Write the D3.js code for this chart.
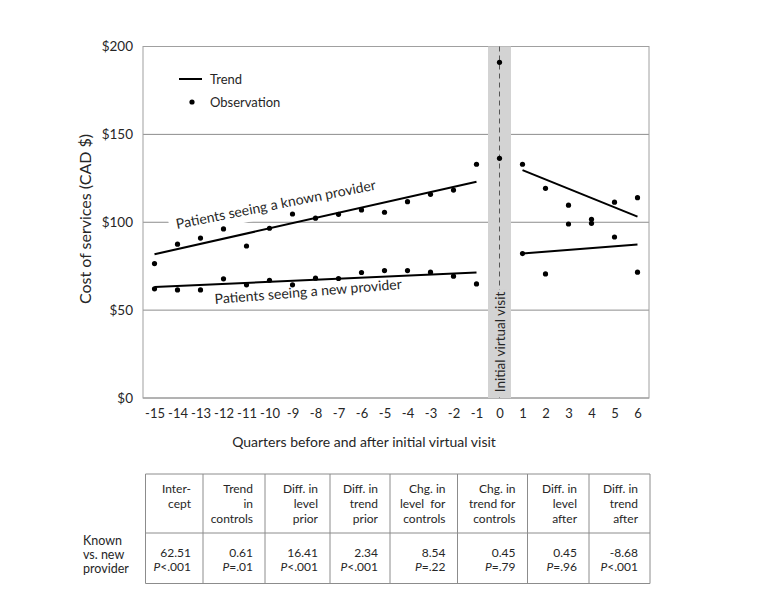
<!DOCTYPE html>
<html>
<head>
<meta charset="utf-8">
<script src="https://cdn.jsdelivr.net/npm/d3@7"></script>
<style>
  html, body { margin: 0; padding: 0; background: #fff; }
  svg text { font-family: Lato, "Open Sans", sans-serif; fill: #262626; }
</style>
</head>
<body>
<svg id="chart" width="769" height="606"></svg>
<script>
// ---------------- DATA ----------------
const quarterTicks = [-15,-14,-13,-12,-11,-10,-9,-8,-7,-6,-5,-4,-3,-2,-1,0,1,2,3,4,5,6];
const yTicks = [0, 50, 100, 150, 200];

const preQuarters = [-15,-14,-13,-12,-11,-10,-9,-8,-7,-6,-5,-4,-3,-2,-1];
const knownPre = [76.5, 87.5, 91.0, 96.2, 86.5, 96.6, 104.7, 102.3, 104.5, 107.0, 105.7, 111.7, 115.9, 118.3, 133.0];
const newPre   = [62.1, 61.5, 61.5, 67.8, 64.4, 67.0, 64.4, 68.2, 68.0, 71.4, 72.5, 72.5, 71.6, 69.3, 64.9];

const visitQuarter = [0, 0];
const visitValues  = [191.0, 136.4];

const postQuarters = [1, 2, 3, 4, 5, 6];
const knownPost = [133.0, 119.3, 109.7, 101.7, 111.4, 114.0];
const newPost   = [82.2, 70.6, 99.0, 99.4, 91.6, 71.6];

const knownTrendPre  = [[-15, 81.8], [-1, 123.1]];
const newTrendPre    = [[-15, 63.1], [-1, 71.4]];
const knownTrendPost = [[1, 129.7], [6, 103.2]];
const newTrendPost   = [[1, 82.2], [6, 87.3]];

const tableHeaders = [
  ["Inter-", "cept"],
  ["Trend", "in", "controls"],
  ["Diff. in", "level", "prior"],
  ["Diff. in", "trend", "prior"],
  ["Chg. in", "level  for", "controls"],
  ["Chg. in", "trend for", "controls"],
  ["Diff. in", "level", "after"],
  ["Diff. in", "trend", "after"]
];
const tableValues = ["62.51", "0.61", "16.41", "2.34", "8.54", "0.45", "0.45", "-8.68"];
const tablePs     = ["<.001", "=.01", "<.001", "<.001", "=.22", "=.79", "=.96", "<.001"];
const rowLabel    = ["Known", "vs. new", "provider"];

// ---------------- LAYOUT ----------------
const svg = d3.select("#chart");
const plot = { left: 143, right: 649, top: 46.5, bottom: 398 };
const x = d3.scaleLinear().domain([-15.5, 6.5]).range([plot.left, plot.right]);
const y = d3.scaleLinear().domain([0, 200]).range([plot.bottom, plot.top]);
const gridColor = "#8c8c8c";
const textColor = "#262626";

// grid lines
svg.append("g").selectAll("line").data(yTicks).join("line")
  .attr("x1", plot.left).attr("x2", plot.right)
  .attr("y1", d => y(d)).attr("y2", d => y(d))
  .attr("stroke", gridColor).attr("stroke-width", 1);

// border
svg.append("rect").attr("x", plot.left).attr("y", plot.top)
  .attr("width", plot.right - plot.left).attr("height", plot.bottom - plot.top)
  .attr("fill", "none").attr("stroke", "#a0a0a0").attr("stroke-width", 1);

// grey band at quarter 0
svg.append("rect").attr("x", x(-0.5)).attr("y", plot.top)
  .attr("width", x(0.5) - x(-0.5)).attr("height", plot.bottom - plot.top)
  .attr("fill", "#d3d3d3");

// dashed line
svg.append("line").attr("x1", x(0)).attr("x2", x(0))
  .attr("y1", plot.top).attr("y2", plot.bottom)
  .attr("stroke", "#555").attr("stroke-width", 1).attr("stroke-dasharray", "5,4");

// "Initial virtual visit" label
const ivG = svg.append("g").attr("transform", `translate(${x(0) + 5},${342}) rotate(-90)`);
const ivText = ivG.append("text").attr("text-anchor", "middle").attr("x", 0).attr("y", 0)
  .style("font-size", "13.5px").style("fill", textColor).text("Initial virtual visit");
const ivBB = ivText.node().getBBox();
ivG.insert("rect", "text").attr("x", ivBB.x - 2).attr("y", ivBB.y)
  .attr("width", ivBB.width + 4).attr("height", ivBB.height).attr("fill", "#d3d3d3");

// y axis labels
const yAxis = d3.axisLeft(y).tickValues(yTicks).tickSize(0).tickPadding(10)
  .tickFormat(d => "$" + d);
const yG = svg.append("g").attr("transform", `translate(${plot.left},0)`).call(yAxis);
yG.select(".domain").remove();
yG.selectAll("text").style("font-size", "13.5px").style("fill", textColor)
  .style("font-family", "Lato, sans-serif");

// x axis labels
const xAxis = d3.axisBottom(x).tickValues(quarterTicks).tickSize(0).tickPadding(11)
  .tickFormat(d => d);
const xG = svg.append("g").attr("transform", `translate(0,${plot.bottom})`).call(xAxis);
xG.select(".domain").remove();
xG.selectAll("text").style("font-size", "13px").style("fill", textColor)
  .style("font-family", "Lato, sans-serif");

// axis titles
svg.append("text").attr("x", 364).attr("y", 447).attr("text-anchor", "middle")
  .style("font-size", "14px").style("fill", textColor)
  .text("Quarters before and after initial virtual visit");
svg.append("text").attr("transform", `translate(91,219) rotate(-90)`)
  .attr("text-anchor", "middle").style("font-size", "16px").style("fill", textColor)
  .text("Cost of services (CAD $)");

// series labels with white backing (drawn under trend lines and dots)
function slopeLabel(txt, x0, y0, ang, padX, padBottom) {
  const g = svg.append("g").attr("transform", `translate(${x0},${y0}) rotate(${ang})`);
  const t = g.append("text").attr("x", 0).attr("y", 0)
    .style("font-size", "14px").style("fill", textColor).text(txt);
  const bb = t.node().getBBox();
  g.insert("rect", "text").attr("x", bb.x - padX).attr("y", bb.y - 2)
    .attr("width", bb.width + 2 * padX).attr("height", bb.height + 2 + padBottom).attr("fill", "#fff");
}
slopeLabel("Patients seeing a known provider", 177, 229, -11.2, 7, 4);
slopeLabel("Patients seeing a new provider", 215, 304, -4.6, 2, -1);

// trend lines
const line = d3.line().x(d => x(d[0])).y(d => y(d[1]));
[knownTrendPre, newTrendPre, knownTrendPost, newTrendPost].forEach(seg => {
  svg.append("path").attr("d", line(seg)).attr("fill", "none")
    .attr("stroke", "#000").attr("stroke-width", 2);
});

// dots
const dots = [];
preQuarters.forEach((q, i) => { dots.push([q, knownPre[i]]); dots.push([q, newPre[i]]); });
visitQuarter.forEach((q, i) => dots.push([q, visitValues[i]]));
postQuarters.forEach((q, i) => { dots.push([q, knownPost[i]]); dots.push([q, newPost[i]]); });
svg.append("g").selectAll("circle").data(dots).join("circle")
  .attr("cx", d => x(d[0])).attr("cy", d => y(d[1])).attr("r", 2.6).attr("fill", "#000");

// legend
svg.append("line").attr("x1", 179).attr("x2", 202).attr("y1", 79).attr("y2", 79)
  .attr("stroke", "#000").attr("stroke-width", 2);
svg.append("text").attr("x", 210).attr("y", 83.5).style("font-size", "13px")
  .style("fill", textColor).text("Trend");
svg.append("circle").attr("cx", 192).attr("cy", 102).attr("r", 2.6).attr("fill", "#000");
svg.append("text").attr("x", 210).attr("y", 106.5).style("font-size", "13px")
  .style("fill", textColor).text("Observation");

// ---------------- TABLE ----------------
const colEdges = [145.5, 203, 265, 330, 390, 457.5, 527.5, 589, 650];
const tTop = 474, tMid = 533, tBot = 583.5;
const tColor = "#8c8c8c";
const tg = svg.append("g");
[tTop, tMid, tBot].forEach(yy => tg.append("line")
  .attr("x1", colEdges[0]).attr("x2", colEdges[colEdges.length - 1])
  .attr("y1", yy).attr("y2", yy).attr("stroke", tColor));
colEdges.forEach(xx => tg.append("line").attr("x1", xx).attr("x2", xx)
  .attr("y1", tTop).attr("y2", tBot).attr("stroke", tColor));

tableHeaders.forEach((lines, i) => {
  const xr = colEdges[i + 1] - 12;
  lines.forEach((l, j) => {
    tg.append("text").attr("x", xr).attr("y", 493 + j * 15)
      .attr("text-anchor", "end").style("font-size", "12px").style("fill", textColor)
      .style("white-space", "pre").attr("xml:space", "preserve").text(l);
  });
});
tableValues.forEach((v, i) => {
  const xr = colEdges[i + 1] - 12;
  tg.append("text").attr("x", xr).attr("y", 556.5).attr("text-anchor", "end")
    .style("font-size", "12px").style("fill", textColor).text(v);
  const t = tg.append("text").attr("x", xr).attr("y", 570.5).attr("text-anchor", "end")
    .style("font-size", "12px").style("fill", textColor);
  t.append("tspan").style("font-style", "italic").text("P");
  t.append("tspan").text(tablePs[i]);
});
rowLabel.forEach((l, j) => {
  tg.append("text").attr("x", 83).attr("y", 545 + j * 14).style("font-size", "12.5px")
    .style("fill", textColor).text(l);
});
</script>
</body>
</html>
